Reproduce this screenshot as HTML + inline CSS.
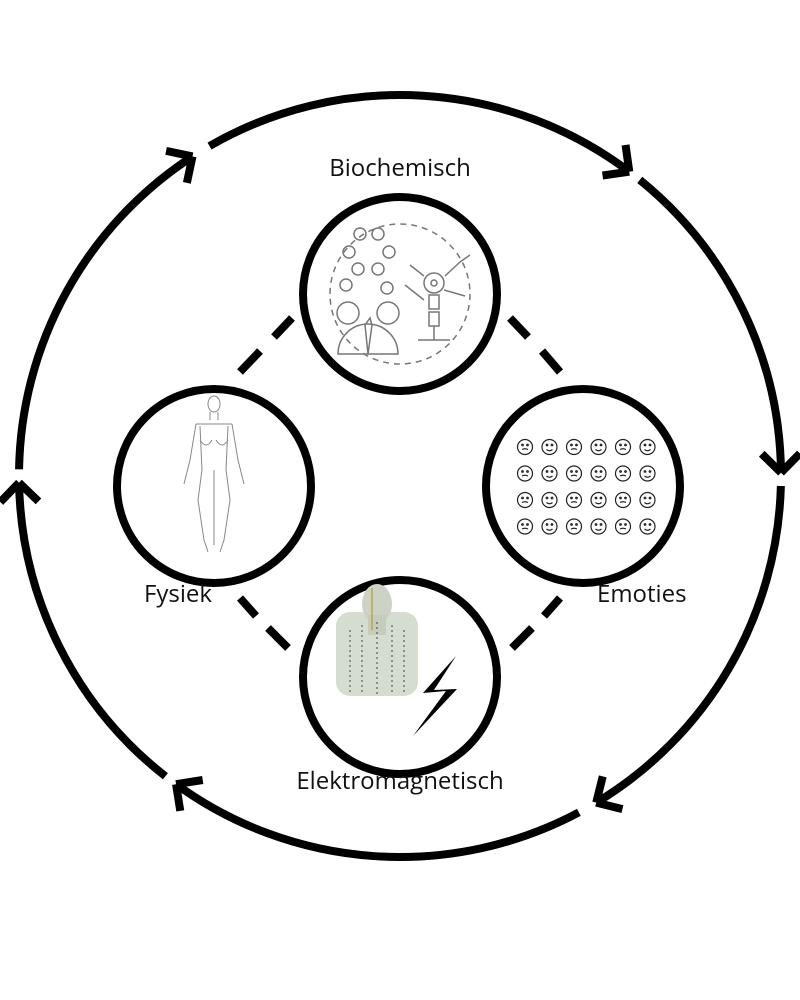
<!DOCTYPE html>
<html><head><meta charset="utf-8"><style>
html,body{margin:0;padding:0;background:#fff;width:800px;height:1000px;overflow:hidden}
svg{display:block}
text{font-family:"Open Sans","Liberation Sans",sans-serif;font-size:24px;fill:#111}
</style></head><body>
<svg id="s" width="800" height="1000" viewBox="0 0 800 1000">
<g id="arcs" fill="none" stroke="#000" stroke-width="8" stroke-linecap="butt"></g>
<!-- dashed connectors -->
<g stroke="#000" stroke-width="8">
<line x1="292" y1="318" x2="274" y2="337"/><line x1="260" y1="351" x2="240" y2="372"/>
<line x1="510" y1="318" x2="528" y2="337"/><line x1="542" y1="351" x2="560" y2="372"/>
<line x1="240" y1="598" x2="256" y2="616"/><line x1="268" y1="628" x2="288" y2="648"/>
<line x1="560" y1="598" x2="544" y2="616"/><line x1="532" y1="628" x2="512" y2="648"/>
</g>
<!-- inner circles -->
<g fill="#fff" stroke="#000" stroke-width="8">
<circle cx="400" cy="294" r="97"/>
<circle cx="214" cy="486" r="97"/>
<circle cx="583" cy="486" r="97"/>
<circle cx="400" cy="677" r="97"/>
</g>
<!-- biochem icon -->
<g fill="none" stroke="#777" stroke-width="1.5">
<circle cx="400" cy="294" r="70" stroke-dasharray="6 5"/>
<circle cx="360" cy="234" r="6"/><circle cx="378" cy="234" r="6"/>
<circle cx="349" cy="252" r="6"/><circle cx="389" cy="252" r="6"/>
<circle cx="358" cy="269" r="6"/><circle cx="378" cy="269" r="6"/>
<circle cx="346" cy="285" r="6"/><circle cx="387" cy="288" r="6"/>
<circle cx="348" cy="313" r="11"/><circle cx="388" cy="313" r="11"/>
<path d="M338 354 A30 30 0 0 1 398 354 Z"/><path d="M368 354 L365 325 L370 318 L372 325 Z"/>
<circle cx="434" cy="283" r="10"/><circle cx="434" cy="283" r="3"/>
<rect x="429" y="295" width="10" height="14"/><rect x="429" y="312" width="10" height="14"/>
<path d="M434 326 V340 M418 340 H450 M424 300 L405 285 M424 276 L410 265 M445 276 L460 262 M444 290 L465 296 M460 262 L470 255"/>
</g>
<!-- body icon -->
<g fill="none" stroke="#888" stroke-width="1">
<ellipse cx="214" cy="404" rx="6" ry="8"/>
<path d="M210 412 V420 M218 412 V420 M196 424 L232 424 M196 424 L190 460 L184 484 M232 424 L238 460 L244 484 M200 426 L202 470 L198 500 L204 540 L208 552 M228 426 L226 470 L230 500 L224 540 L220 552 M214 470 V545 M200 440 Q206 450 212 440 M216 440 Q222 450 228 440"/>
</g>
<!-- emoticons -->
<g fill="none" stroke="#222" stroke-width="1.2" id="emo"></g>
<!-- bust -->
<g>
<rect x="336" y="612" width="82" height="84" rx="14" fill="#d5dcd0"/>
<ellipse cx="377" cy="604" rx="15" ry="20" fill="#ccd3c6"/>
<rect x="368" y="615" width="18" height="20" fill="#c5ccbe"/>
<path d="M372 588 V630" stroke="#b9a83c" stroke-width="1.5"/>
<g stroke="#444" stroke-width="1" stroke-dasharray="2 3">
<line x1="350" y1="630" x2="350" y2="694"/><line x1="362" y1="625" x2="362" y2="694"/><line x1="377" y1="622" x2="377" y2="694"/><line x1="392" y1="625" x2="392" y2="694"/><line x1="404" y1="630" x2="404" y2="694"/>
</g>
</g>
<polygon points="456,656 423,693 446,691 413,736 457,689 434,690" fill="#000"/>
<text x="400" y="176" text-anchor="middle">Biochemisch</text>
<text x="144" y="602">Fysiek</text>
<text x="597" y="602">Emoties</text>
<text x="400" y="789" text-anchor="middle">Elektromagnetisch</text>
</svg>
<script>
var cx=400,cy=476,r=381,g=document.getElementById('arcs'),d='';
function P(a){a=a*Math.PI/180;return[cx+r*Math.cos(a),cy+r*Math.sin(a)];}
var arcs=[[181,237],[240,307],[309,359.5],[361.5,419],[422,486],[488,539]];
arcs.forEach(function(s){var p=P(s[0]),q=P(s[1]);
d+='M'+p[0]+' '+p[1]+' A'+r+' '+r+' 0 0 1 '+q[0]+' '+q[1]+' ';
var a=s[1]*Math.PI/180,tx=-Math.sin(a),ty=Math.cos(a),bx=-tx,by=-ty,L=27;
[45,-45].forEach(function(k){var c=Math.cos(k*Math.PI/180),sn=Math.sin(k*Math.PI/180);
var vx=bx*c-by*sn,vy=bx*sn+by*c;
d+='M'+q[0]+' '+q[1]+' L'+(q[0]+vx*L)+' '+(q[1]+vy*L)+' ';});
});
var pa=document.createElementNS('http://www.w3.org/2000/svg','path');pa.setAttribute('d',d);pa.setAttribute('stroke-linejoin','miter');g.appendChild(pa);
var e=document.getElementById('emo'),h='';
for(var i=0;i<4;i++)for(var j=0;j<6;j++){var x=525+j*24.5,y=447+i*26.5;
h+='<circle cx="'+x+'" cy="'+y+'" r="7.5"/><circle cx="'+(x-2.5)+'" cy="'+(y-2)+'" r="0.8"/><circle cx="'+(x+2.5)+'" cy="'+(y-2)+'" r="0.8"/><path d="M'+(x-3)+' '+(y+2.5)+' Q'+x+' '+(y+(j%2?5:1))+' '+(x+3)+' '+(y+2.5)+'"/>';}
e.innerHTML=h;
</script>
</body></html>
